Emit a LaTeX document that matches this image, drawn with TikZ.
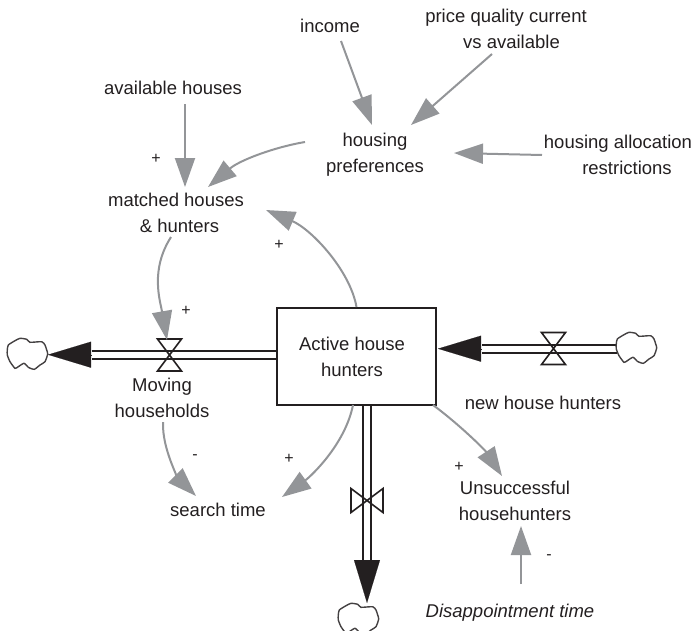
\documentclass[tikz,border=0pt]{standalone}
\usepackage{fontspec}
\setmainfont{Liberation Sans}
\usetikzlibrary{arrows.meta}
\definecolor{ink}{HTML}{231F20}
\definecolor{linkgrey}{HTML}{939598}
\tikzset{
  x=1pt,y=-1pt,
  lbl/.style={font=\fontsize{18.5}{26}\selectfont,text=ink,align=center,inner sep=0pt},
  sign/.style={font=\fontsize{16}{18}\selectfont,text=ink,inner sep=0pt},
  link/.style={draw=linkgrey,line width=2pt,-{Triangle[length=29pt,width=20pt,fill=linkgrey]}},
  pipe/.style={draw=ink,line width=2pt,double=white,double distance=6pt},
  flowhead/.style={draw=ink,line width=0.1pt,-{Triangle[length=43pt,width=26pt,fill=ink]}},
  stockbox/.style={draw=ink,line width=2pt,minimum width=159pt,minimum height=97pt,inner sep=0pt},
  valveshape/.pic={\draw[ink,line width=1.6pt,line join=miter] (-12,-16)--(12,-16)--(-12,16)--(12,16)--cycle;},
  cloudshape/.pic={\draw[ink!85,line width=1.4pt] plot[smooth cycle,tension=0.35] coordinates {(-20.2,-4)(-19.2,-9)(-12.5,-13.3)(-7.5,-15.7)(-0.8,-14.7)(2.5,-11.7)(14.2,-12.3)(17.5,-9)(19.2,-4)(20.2,0)(17.5,7.7)(12.5,11)(6.8,15.3)(0.8,13.3)(-3.5,9.3)(-9.2,12.7)(-12.5,14.3)(-17.5,7.7)(-20.2,1)};}
}
\begin{document}
\begin{tikzpicture}
\useasboundingbox (0,0) rectangle (694,630);
\clip (0,0) rectangle (694,630);
% text nodes
\node[lbl] (income) at (330,26) {income};
\node[lbl] (price) at (506,29) {price quality current\\\hspace*{11pt}vs available};
\node[lbl] (avail) at (173,88) {available houses};
\node[lbl] (prefs) at (375,155) {housing\\preferences};
\node[lbl] (alloc) at (618,155) {housing allocation\\\hspace*{18pt}restrictions};
\node[lbl] (matched) at (176,213) {matched houses\\\hspace*{7pt}\& hunters};
\node[stockbox] (box) at (356.5,356.5) {};
\node[lbl] (boxtext) at (352,357) {Active house\\hunters};
\node[lbl] (moving) at (162,398) {Moving\\households};
\node[lbl] (newhh) at (543,403) {new house hunters};
\node[lbl] (search) at (218,510) {search time};
\node[lbl] (unsucc) at (515,501) {Unsuccessful\\househunters};
\node[lbl,font=\fontsize{18.5}{26}\selectfont\itshape] (disapp) at (510,613) {Disappointment time};
% signs
\node[sign] (s1) at (156,159) {+};
\node[sign] (s2) at (279,245) {+};
\node[sign] (s3) at (186,311) {+};
\node[sign] (s4) at (289,459) {+};
\node[sign] (s5) at (459,467) {+};
\node[sign] (s6) at (195,457) {-};
\node[sign] (s7) at (549,557) {-};
% flow anchors
\coordinate (valveL) at (169.5,355);
\coordinate (valveR) at (553.5,348.5);
\coordinate (valveD) at (367,500.5);
\coordinate (cloudL) at (27.5,354);
\coordinate (cloudR) at (636.5,348);
\coordinate (cloudD) at (358.5,619);
\coordinate (baseL) at (91.5,354.7);
\coordinate (tipL) at (48,354.7);
\coordinate (baseR) at (482,348.7);
\coordinate (tipR) at (438,348.7);
\coordinate (baseD) at (367,560);
\coordinate (tipD) at (367,603);
\coordinate (endR) at (617,348.7);
% pipes
\draw[pipe] (baseL) -- (box.west |- baseL);
\draw[pipe] (baseR) -- (endR);
\draw[pipe] (box.south -| baseD) -- (baseD);
\draw[flowhead] (baseL) -- (tipL);
\draw[flowhead] (baseR) -- (tipR);
\draw[flowhead] (baseD) -- (tipD);
% valves and clouds
\pic at (valveL) {valveshape};
\pic at (valveR) {valveshape};
\pic[rotate=90] at (valveD) {valveshape};
\pic at (cloudL) {cloudshape};
\pic at (cloudR) {cloudshape};
\pic at (cloudD) {cloudshape};
% links
\draw[link] ([shift={(11,15)}]income.center) -- ([shift={(-3,-30)}]prefs.center);
\draw[link] ([shift={(-14,25)}]price.center) -- ([shift={(36,-30)}]prefs.center);
\draw[link] ([shift={(12,16)}]avail.center) -- ([shift={(9,-26)}]matched.center);
\draw[link] ([shift={(-76,0)}]alloc.center) -- ([shift={(79,-2)}]prefs.center);
\draw[link] ([shift={(-70,-13)}]prefs.center) .. controls (275,147) and (240,160) .. ([shift={(32,-26)}]matched.center);
\draw[link] (box.north) .. controls (350,270) and (311,229) .. ([shift={(90,-3)}]matched.center);
\draw[link] ([shift={(-5,24)}]matched.center) .. controls (150,270) and (160,300) .. ([shift={(-2.5,-15)}]valveL);
\draw[link] ([shift={(1,24)}]moving.center) .. controls (162,450) and (180,480) .. ([shift={(-22,-14)}]search.center);
\draw[link] ([shift={(-3.5,48.5)}]box.center) .. controls (345,445) and (310,477) .. ([shift={(64,-13)}]search.center);
\draw[link] ([shift={(76.5,48.5)}]box.center) .. controls (460,425) and (485,450) .. ([shift={(-13,-25)}]unsucc.center);
\draw[link] ([shift={(11,-29)}]disapp.center) -- ([shift={(6,25)}]unsucc.center);
\end{tikzpicture}
\end{document}
